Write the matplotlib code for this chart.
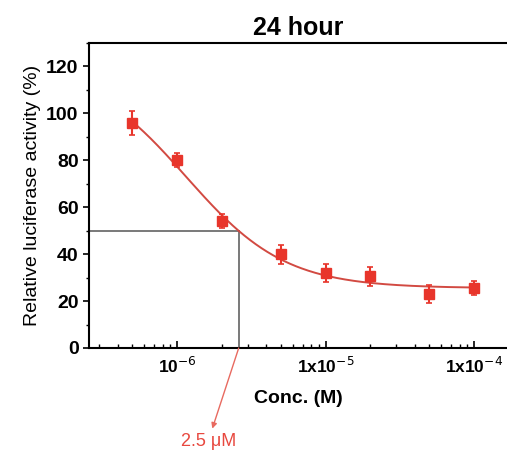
# Curva dosis-respuesta de actividad luciferasa a 24 horas

import numpy as np
import matplotlib.pyplot as plt
from matplotlib.ticker import FixedLocator, FixedFormatter, LogLocator, NullFormatter, MultipleLocator

plt.rcParams['font.family'] = ['Liberation Sans', 'DejaVu Sans']

conc = [5e-7, 1e-6, 2e-6, 5e-6, 1e-5, 2e-5, 5e-5, 1e-4]
activity = [96, 80, 54, 40, 32, 30.5, 23, 25.5]
errors = [5, 3, 3, 4, 4, 4, 4, 3]

# parametros del ajuste sigmoidal (Hill)
fit_bottom = 25.5
fit_top = 120.5
fit_ec50 = 1.15e-6
fit_hill = 1.3
ic50 = 2.6e-6

red = '#e8352b'
curve_red = '#d24a42'

fig = plt.figure(figsize=(5.07, 4.53), dpi=100)
ax = fig.add_axes([89 / 507, 105 / 453, 1 - 89 / 507, 305 / 453])

xs = np.logspace(np.log10(conc[0]), np.log10(conc[-1]), 300)
ys = fit_bottom + (fit_top - fit_bottom) / (1 + (xs / fit_ec50) ** fit_hill)
ax.plot(xs, ys, color=curve_red, lw=1.4, zorder=3)

ax.errorbar(conc, activity, yerr=errors, fmt='s', color=red, ms=6.5, elinewidth=1.5,
            capsize=2, capthick=1.2, zorder=4)

# lineas guia del IC50
ax.plot([2.55e-7, ic50], [50, 50], color='#555555', lw=1.1, zorder=2)
ax.plot([ic50, ic50], [0, 50], color='#555555', lw=1.1, zorder=2)

ax.annotate('2.5 \u03bcM', xy=(ic50, 0), xytext=(-22, -61), textcoords='offset points',
            ha='center', va='top', color='#e8483f', fontsize=13, annotation_clip=False,
            arrowprops=dict(arrowstyle='<|-', color='#e86a60', lw=1.0, shrinkA=1, shrinkB=0,
                            mutation_scale=8))

ax.set_xscale('log')
ax.set_xlim(2.55e-7, 1.667e-4)
ax.set_ylim(0, 130)

ax.xaxis.set_major_locator(FixedLocator([1e-6, 1e-5, 1e-4]))
ax.xaxis.set_major_formatter(FixedFormatter([r'10$^{-6}$', r'1x10$^{-5}$', r'1x10$^{-4}$']))
ax.xaxis.set_minor_locator(LogLocator(base=10, subs=np.arange(2, 10)))
ax.xaxis.set_minor_formatter(NullFormatter())
ax.yaxis.set_major_locator(FixedLocator([0, 20, 40, 60, 80, 100, 120]))
ax.yaxis.set_minor_locator(MultipleLocator(10))

ax.tick_params(axis='x', which='both', direction='in', labelsize=12.5, pad=6)
ax.tick_params(axis='x', which='major', length=5, width=1.2)
ax.tick_params(axis='x', which='minor', length=3, width=1)
ax.tick_params(axis='y', which='major', direction='out', length=4, width=1.2, labelsize=14)
ax.tick_params(axis='y', which='minor', direction='out', length=2.5, width=1)
for lab in ax.get_xticklabels() + ax.get_yticklabels():
    lab.set_fontweight('bold')

ax.spines['right'].set_visible(False)
for s in ['left', 'bottom', 'top']:
    ax.spines[s].set_linewidth(1.5)

ax.set_title('24 hour', fontsize=18, fontweight='bold', pad=6)
ax.set_xlabel('Conc. (M)', fontsize=14, fontweight='bold', labelpad=10)
ax.set_ylabel('Relative luciferase activity (%)', fontsize=14, labelpad=4)

fig.savefig('out.png', dpi=100)
